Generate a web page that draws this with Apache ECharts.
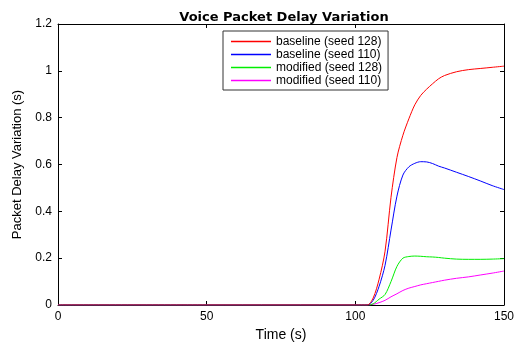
<!DOCTYPE html>
<html>
<head>
<meta charset="utf-8">
<script src="https://cdn.jsdelivr.net/npm/echarts@6/dist/echarts.min.js"></script>
<style>
  html, body { margin: 0; padding: 0; background: #fff; }
  #main { width: 515px; height: 343px; }
</style>
</head>
<body>
<div id="main"></div>
<script>
// time in seconds
var timeSec = [0, 50, 100, 104, 106, 108, 110, 112, 114, 116, 118, 120, 122, 124, 126, 128, 130, 134, 138, 142, 146, 150];

var baseline128 = [0, 0, 0, 0, 0.03, 0.11, 0.23, 0.46, 0.63, 0.725, 0.795, 0.855, 0.895, 0.922, 0.945, 0.966, 0.98, 0.996, 1.005, 1.01, 1.015, 1.02];
var baseline110 = [0, 0, 0, 0, 0.02, 0.08, 0.17, 0.32, 0.465, 0.555, 0.59, 0.605, 0.612, 0.611, 0.604, 0.593, 0.585, 0.567, 0.549, 0.53, 0.51, 0.493];
var modified128 = [0, 0, 0, 0, 0.005, 0.025, 0.045, 0.1, 0.165, 0.2, 0.207, 0.209, 0.208, 0.206, 0.205, 0.203, 0.2, 0.196, 0.195, 0.195, 0.196, 0.198];
var modified110 = [0, 0, 0, 0, 0.003, 0.01, 0.02, 0.035, 0.048, 0.062, 0.072, 0.079, 0.086, 0.091, 0.096, 0.101, 0.106, 0.114, 0.12, 0.128, 0.136, 0.145];

var seriesNames = ['baseline (seed 128)', 'baseline (seed 110)', 'modified (seed 128)', 'modified (seed 110)'];
var seriesColors = ['#ff0000', '#0000ff', '#00ee00', '#ff00ff'];
var seriesValues = [baseline128, baseline110, modified128, modified110];

var myChart = echarts.init(document.getElementById('main'));
var font = 'Liberation Sans, Arial, sans-serif';

function pairs(vals) {
    return vals.map(function(v, i) { return [timeSec[i], v]; });
}

var series = seriesValues.map(function(vals, i) {
    return {
        name: seriesNames[i],
        type: 'line',
        data: pairs(vals),
        smooth: 0.3,
        symbol: 'none',
        color: seriesColors[i],
        lineStyle: { width: 1, color: seriesColors[i] },
        z: 10 - i
    };
});

var axisLine = { show: true, onZero: false, lineStyle: { color: '#000', width: 1 } };
var tickStyle = { show: true, inside: true, length: 4, lineStyle: { color: '#000' } };

var option = {
    animation: false,
    title: {
        text: 'Voice Packet Delay Variation',
        left: 279,
        textAlign: 'center',
        top: 6,
        textStyle: { fontFamily: 'DejaVu Sans', fontSize: 13, fontWeight: 'bold', color: '#000' }
    },
    legend: {
        orient: 'vertical',
        left: 223,
        top: 31,
        padding: [4, 6, 3, 8],
        itemGap: 0,
        itemWidth: 40,
        itemHeight: 1.5,
        icon: 'rect',
        borderColor: '#333',
        borderWidth: 1,
        backgroundColor: '#fff',
        data: seriesNames,
        textStyle: { fontFamily: font, fontSize: 12, color: '#000', lineHeight: 13 }
    },
    grid: { left: 58, top: 24, right: 11, bottom: 38, outerBoundsMode: 'none', containLabel: false },
    xAxis: [{
        type: 'value',
        min: 0, max: 150, interval: 50,
        name: 'Time (s)',
        nameLocation: 'middle',
        nameGap: 21,
        nameTextStyle: { fontFamily: font, fontSize: 14, color: '#000' },
        axisLine: axisLine,
        axisTick: tickStyle,
        axisLabel: { fontFamily: font, fontSize: 12, color: '#000', margin: 6 },
        splitLine: { show: false }
    }, {
        type: 'value',
        position: 'top',
        min: 0, max: 150, interval: 50,
        axisLine: axisLine,
        axisTick: tickStyle,
        axisLabel: { show: false },
        splitLine: { show: false }
    }],
    yAxis: [{
        type: 'value',
        min: 0, max: 1.2, interval: 0.2,
        name: 'Packet Delay Variation (s)',
        nameLocation: 'middle',
        nameGap: 29,
        nameTextStyle: { fontFamily: font, fontSize: 13, color: '#000' },
        axisLine: axisLine,
        axisTick: tickStyle,
        axisLabel: { fontFamily: font, fontSize: 12, color: '#000', margin: 6 },
        splitLine: { show: false }
    }, {
        type: 'value',
        position: 'right',
        min: 0, max: 1.2, interval: 0.2,
        axisLine: axisLine,
        axisTick: tickStyle,
        axisLabel: { show: false },
        splitLine: { show: false }
    }],
    series: series
};

myChart.setOption(option);
</script>
</body>
</html>
